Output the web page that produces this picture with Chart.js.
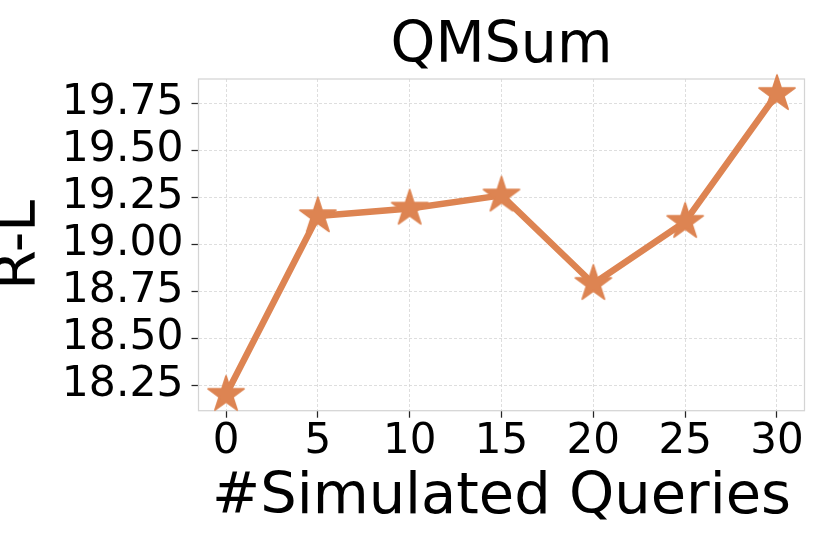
<!DOCTYPE html>
<html>
<head>
<meta charset="utf-8">
<script src="https://cdn.jsdelivr.net/npm/chart.js@4"></script>
<style>
  html, body { margin: 0; padding: 0; background: #ffffff; }
  #wrap { width: 830px; height: 554px; }
</style>
</head>
<body>
<div id="wrap"><canvas id="c" width="830" height="554"></canvas></div>
<script>
// ---- data ----
const queries = [0, 5, 10, 15, 20, 25, 30];
const rougeL = [18.20, 19.15, 19.19, 19.26, 18.79, 19.12, 19.80];
const xTickValues = [0, 5, 10, 15, 20, 25, 30];
const yTickValues = [18.25, 18.50, 18.75, 19.00, 19.25, 19.50, 19.75];
const chartTitle = 'QMSum';
const xTitle = '#Simulated Queries';
const yTitle = 'R-L';

const ORANGE = '#DD8452';
const FONT = 'DejaVu Sans';

// filled five-pointed star marker (with a thin edge of the same colour)
function makeStar(R, color) {
  const size = Math.ceil(R * 2 + 10);
  const cv = document.createElement('canvas');
  cv.width = size; cv.height = size;
  const g = cv.getContext('2d');
  const cx = size / 2, cy = size / 2, r = R * 0.381966;
  g.beginPath();
  for (let i = 0; i < 10; i++) {
    const rad = (i % 2 === 0) ? R : r;
    const a = -Math.PI / 2 + i * Math.PI / 5;
    const px = cx + rad * Math.cos(a), py = cy + rad * Math.sin(a);
    if (i === 0) g.moveTo(px, py); else g.lineTo(px, py);
  }
  g.closePath();
  g.fillStyle = color;
  g.fill();
  g.strokeStyle = color;
  g.lineWidth = 1.6;
  g.lineJoin = 'round';
  g.stroke();
  return cv;
}
const star = makeStar(19, ORANGE);

const framePlugin = {
  id: 'frame',
  beforeDatasetsDraw(chart) {
    const { ctx, chartArea: a } = chart;
    ctx.save();
    ctx.strokeStyle = '#d4d4d4';
    ctx.lineWidth = 1.25;
    ctx.strokeRect(a.left, a.top, a.right - a.left, a.bottom - a.top);
    ctx.restore();
  }
};

new Chart(document.getElementById('c'), {
  type: 'line',
  data: {
    datasets: [{
      data: queries.map((q, i) => ({ x: q, y: rougeL[i] })),
      borderColor: ORANGE,
      backgroundColor: ORANGE,
      borderWidth: 6.5,
      borderJoinStyle: 'round',
      tension: 0,
      pointStyle: star,
      pointRadius: 19,
      clip: false
    }]
  },
  options: {
    responsive: false,
    animation: false,
    devicePixelRatio: 1,
    layout: { padding: { left: 0, right: 20.5, top: 0, bottom: 0 } },
    plugins: {
      legend: { display: false },
      tooltip: { enabled: false },
      title: {
        display: true,
        text: chartTitle,
        fullSize: false,
        color: '#000',
        font: { family: FONT, size: 57, weight: 'normal', lineHeight: 1 },
        padding: { top: 19, bottom: 3 }
      }
    },
    scales: {
      x: {
        type: 'linear',
        min: -1.5,
        max: 31.5,
        afterBuildTicks(scale) { scale.ticks = xTickValues.map(v => ({ value: v })); },
        afterFit(scale) { scale.height = 143.3; },
        ticks: {
          color: '#000',
          padding: 3,
          maxRotation: 0,
          font: { family: FONT, size: 42, lineHeight: 1 },
          callback: (v) => String(v)
        },
        grid: {
          color: '#d6d6d6',
          lineWidth: 0.8,
          tickLength: 7,
          tickColor: '#262626',
          tickWidth: 1.25,
          drawTicks: true
        },
        border: { display: false, dash: [3, 2] },
        title: {
          display: true,
          text: xTitle,
          color: '#000',
          font: { family: FONT, size: 57.5, lineHeight: 1 },
          padding: { top: 0, bottom: 27 }
        }
      },
      y: {
        type: 'linear',
        min: 18.115,
        max: 19.879,
        afterBuildTicks(scale) { scale.ticks = yTickValues.map(v => ({ value: v })); },
        afterFit(scale) { scale.width = 198.5; },
        ticks: {
          color: '#000',
          padding: 8,
          font: { family: FONT, size: 42.5, lineHeight: 1 },
          callback: (v) => Number(v).toFixed(2)
        },
        grid: {
          color: '#d6d6d6',
          lineWidth: 0.8,
          tickLength: 7,
          tickColor: '#262626',
          tickWidth: 1.25,
          drawTicks: true
        },
        border: { display: false, dash: [3, 2] },
        title: {
          display: true,
          text: yTitle,
          color: '#000',
          font: { family: FONT, size: 57, lineHeight: 0.7 },
          padding: { top: 0, bottom: 0 }
        }
      }
    }
  },
  plugins: [framePlugin]
});
</script>
</body>
</html>
